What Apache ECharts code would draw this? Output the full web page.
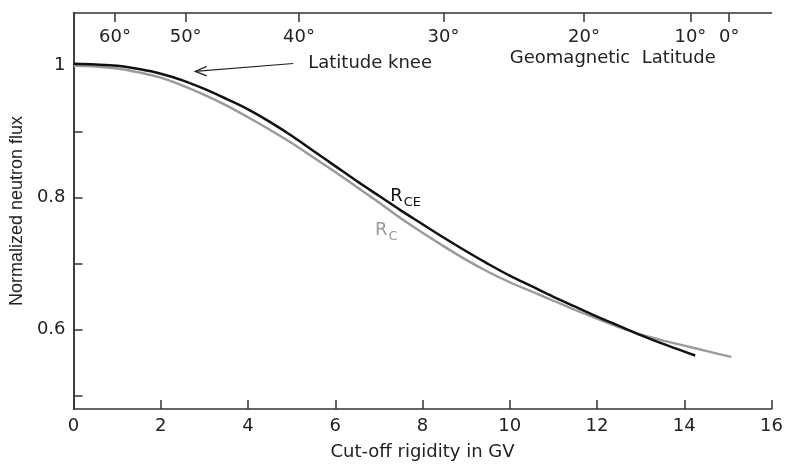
<!DOCTYPE html>
<html>
<head>
<meta charset="utf-8">
<script src="https://cdn.jsdelivr.net/npm/echarts@6/dist/echarts.min.js"></script>
<style>
html,body{margin:0;padding:0;background:#fff;}
#main{width:786px;height:466px;}
</style>
</head>
<body>
<div id="main"></div>
<script>
// Cut-off rigidity (GV) and normalized neutron flux, R_CE (black)
const rceGV   = [0, 0.5, 1, 1.5, 2, 2.5, 3, 3.5, 4, 4.5, 5, 5.5, 6, 6.5, 7, 7.5, 8, 8.5, 9, 9.5, 10, 10.5, 11, 11.5, 12, 12.5, 13, 13.5, 14, 14.25];
const rceFlux = [1.003, 1.002, 1.000, 0.995, 0.988, 0.978, 0.965, 0.950, 0.934, 0.915, 0.894, 0.871, 0.848, 0.825, 0.803, 0.781, 0.760, 0.739, 0.719, 0.700, 0.682, 0.666, 0.650, 0.635, 0.620, 0.606, 0.592, 0.579, 0.567, 0.561];
// R_C (grey)
const rcGV    = [0, 0.5, 1, 1.5, 2, 2.5, 3, 3.5, 4, 4.5, 5, 5.5, 6, 6.5, 7, 7.5, 8, 8.5, 9, 9.5, 10, 10.5, 11, 11.5, 12, 12.5, 13, 13.5, 14, 14.5, 15, 15.08];
const rcFlux  = [1.000, 0.999, 0.996, 0.990, 0.982, 0.970, 0.956, 0.940, 0.922, 0.903, 0.883, 0.861, 0.839, 0.816, 0.793, 0.769, 0.747, 0.726, 0.706, 0.688, 0.672, 0.658, 0.644, 0.630, 0.617, 0.604, 0.593, 0.584, 0.576, 0.568, 0.560, 0.559];
// Geomagnetic latitude scale on top axis (positions in GV)
const latTickGV  = [0.95, 2.57, 5.17, 8.48, 11.70, 14.14, 15.03];
const latLabels  = ['60°', '50°', '40°', '30°', '20°', '10°', '0°'];
// Y axis ticks / labels
const yTicks  = [0.5, 0.6, 0.7, 0.8, 0.9, 1.0];
const yLabels = [0.6, 0.8, 1.0];

const AX = '#333';
const FONT_H = 'DejaVu Sans';
const FONT_V = 'Liberation Sans';

const chart = echarts.init(document.getElementById('main'), null, {renderer: 'canvas'});
const zip = (xs, ys) => xs.map((x, i) => [x, ys[i]]);

chart.setOption({
  animation: false,
  backgroundColor: '#fff',
  grid: {left: 73, right: 14, top: 13, bottom: 54, containLabel: false},
  xAxis: [{
    type: 'value', min: 0, max: 16, interval: 2,
    name: 'Cut-off rigidity in GV', nameLocation: 'middle', nameGap: 34,
    nameTextStyle: {fontFamily: FONT_H, fontSize: 18, color: '#222'},
    axisLine: {lineStyle: {color: AX, width: 1.5}},
    axisTick: {inside: true, length: 9, lineStyle: {color: AX, width: 1.5}},
    axisLabel: {fontFamily: FONT_H, fontSize: 18, color: '#222', margin: 8},
    splitLine: {show: false}
  }, {
    type: 'value', position: 'top', min: 0, max: 16,
    axisLine: {show: true, lineStyle: {color: AX, width: 1.5}},
    axisTick: {show: true, inside: true, length: 9, customValues: latTickGV, lineStyle: {color: AX, width: 1.5}},
    axisLabel: {show: true, inside: true, margin: 15, customValues: latTickGV,
      fontFamily: FONT_H, fontSize: 18, color: '#222',
      formatter: v => { const i = latTickGV.findIndex(t => Math.abs(t - v) < 1e-6); return i >= 0 ? latLabels[i] : ''; }},
    splitLine: {show: false}
  }],
  yAxis: [{
    type: 'value', min: 0.48, max: 1.08,
    name: 'Normalized neutron flux', nameLocation: 'middle', nameGap: 46,
    nameTextStyle: {fontFamily: FONT_V, fontSize: 18, color: '#222'},
    axisLine: {show: true, lineStyle: {color: AX, width: 1.5}},
    axisTick: {show: true, inside: true, length: 9, customValues: yTicks, lineStyle: {color: AX, width: 1.5}},
    axisLabel: {show: true, margin: 8, customValues: yLabels, fontFamily: FONT_H, fontSize: 18, color: '#222',
      formatter: v => Math.abs(v - 1) < 1e-9 ? '1' : v.toFixed(1)},
    splitLine: {show: false}
  }, {
    type: 'value', position: 'right', min: 0.48, max: 1.08,
    axisLine: {show: true, lineStyle: {color: AX, width: 1.5}},
    axisTick: {show: false}, axisLabel: {show: false}, splitLine: {show: false}
  }],
  series: [{
    name: 'R_C', type: 'line', data: zip(rcGV, rcFlux), smooth: 0.35, symbol: 'none',
    lineStyle: {color: '#9a9a9a', width: 2.4}, z: 2
  }, {
    name: 'R_CE', type: 'line', data: zip(rceGV, rceFlux), smooth: 0.35, symbol: 'none',
    lineStyle: {color: '#111', width: 2.5}, z: 3
  }]
});

// Annotations placed via data coordinates
const P = (x, y) => chart.convertToPixel({gridIndex: 0}, [x, y]);
const tail = P(5.035, 1.0035), head = P(2.79, 0.9915);
const rce = P(7.26, 0.8025), rc = P(6.91, 0.75);
const knee = P(5.38, 1.003), geo = P(10.0, 1.011);
const ts = (extra) => Object.assign({fontFamily: FONT_H, fontSize: 18, fill: '#222', verticalAlign: 'middle', align: 'left'}, extra);

chart.setOption({
  graphic: [
    {type: 'line', shape: {x1: tail[0], y1: tail[1], x2: head[0], y2: head[1]}, style: {stroke: '#222', lineWidth: 1.2}},
    {type: 'polyline', shape: {points: [[head[0] + 11.5, head[1] - 5], [head[0], head[1]], [head[0] + 11.5, head[1] + 4.5]]}, style: {stroke: '#222', lineWidth: 1.2, fill: null}},
    {type: 'text', x: knee[0], y: knee[1], style: ts({text: 'Latitude knee'})},
    {type: 'text', x: geo[0], y: geo[1], style: ts({text: 'Geomagnetic  Latitude'})},
    {type: 'text', x: rce[0], y: rce[1], style: ts({text: 'R', fill: '#111'})},
    {type: 'text', x: rce[0] + 13.5, y: rce[1] + 6, style: ts({text: 'CE', fontSize: 13, fill: '#111'})},
    {type: 'text', x: rc[0], y: rc[1], style: ts({text: 'R', fill: '#999'})},
    {type: 'text', x: rc[0] + 13.5, y: rc[1] + 6, style: ts({text: 'C', fontSize: 13, fill: '#999'})}
  ]
});
</script>
</body>
</html>
